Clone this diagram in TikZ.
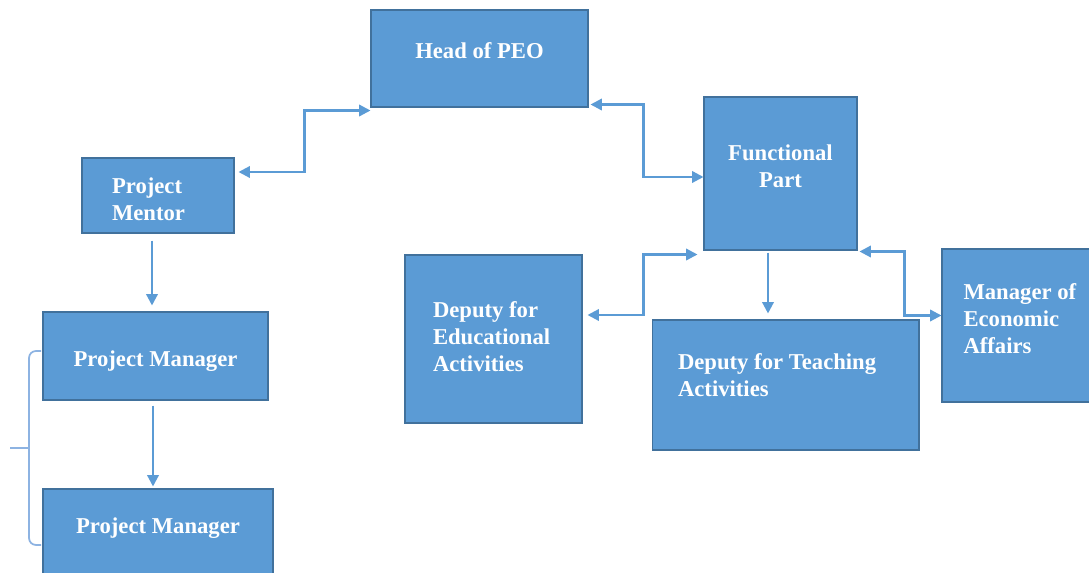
\documentclass[tikz,border=0pt]{standalone}
\usepackage{fontspec}
\setmainfont{Liberation Serif}
\definecolor{boxblue}{HTML}{5B9BD5}
\definecolor{boxedge}{HTML}{41719C}
\definecolor{linkblue}{HTML}{5B9BD5}
\definecolor{bracelight}{HTML}{8DB3E2}
\usetikzlibrary{arrows.meta,positioning,calc}

\begin{document}
\begin{tikzpicture}[
  x=0.02cm, y=-0.02cm,
  every node/.style={font=\fontsize{12.9}{15.3}\selectfont\bfseries},
  post/.style={draw=boxedge, fill=boxblue, text=white, line width=0.6pt,
               inner sep=0pt, align=flush left},
  link/.style={draw=linkblue, line width=1.3pt,
               {Triangle[length=6.5pt,width=6.5pt]}-{Triangle[length=6.5pt,width=6.5pt]}},
  down/.style={draw=linkblue, line width=1.3pt,
               -{Triangle[length=6.5pt,width=6.5pt]}},
  brace/.style={draw=bracelight, line width=1pt}
]
\useasboundingbox (0,0) rectangle (1089,573);

%% Boxes
\node[post, minimum width=4.34cm, minimum height=1.94cm, text depth=0.32cm]
  (head) at (479.5,58.5) {Head of PEO};
\node[post, minimum width=3.04cm, minimum height=1.5cm, text width=1.84cm, text depth=0.38cm]
  (mentor) at (158,195.5) {Project\\Mentor};
\node[post, minimum width=3.06cm, minimum height=3.06cm, align=center, text depth=0.28cm]
  (func) at (780.5,173.5) {Functional\\Part};
\node[post, minimum width=4.5cm, minimum height=1.76cm, text height=0.51cm]
  (pmA) at (155.5,356) {Project Manager};
\node[post, minimum width=4.6cm, minimum height=1.76cm, text depth=0.3cm]
  (pmB) at (158,533) {Project Manager};
\node[post, minimum width=3.54cm, minimum height=3.36cm, text width=2.42cm, text depth=1.18cm]
  (edu) at (493.5,339) {Deputy for\\Educational\\Activities};
\node[post, minimum width=5.34cm, minimum height=2.6cm, text width=4.3cm, text depth=0.92cm]
  (teach) at (785.5,385) {Deputy for Teaching\\Activities};
\node[post, minimum width=3.16cm, minimum height=3.06cm, text width=2.3cm, text depth=1.36cm]
  (econ) at (1021,325.5) {Manager of\\Economic\\Affairs};

%% Head of PEO links
\draw[link] ([xshift=0.08cm, yshift=0.47cm]mentor.east) -- ++(66,0)
  |- ([yshift=-0.06cm]head.south west);
\draw[link] ($(head.south east)+(2,-3)$) -- ++(53,0)
  |- ([yshift=-0.07cm]func.west);

%% Functional Part links
\draw[link] ([xshift=0.1cm, yshift=0.48cm]edu.east) -- ++(56,0)
  |- ($(func.south west)+(-6,4)$);
\draw[down] ([xshift=-0.25cm, yshift=-0.04cm]func.south)
  -- ([xshift=-0.25cm, yshift=0.12cm]func.south |- teach.north);
\draw[link] ($(func.south east)+(2,1)$) -- ++(45,0)
  |- ([yshift=0.2cm]econ.west);

%% Project line
\draw[down] ([xshift=-0.12cm, yshift=-0.14cm]mentor.south)
  -- ([xshift=-0.12cm, yshift=0.12cm]mentor.south |- pmA.north);
\draw[down] ([xshift=-0.05cm, yshift=-0.1cm]pmA.south)
  -- ([xshift=-0.05cm, yshift=0.04cm]pmA.south |- pmB.north);

%% Brace
\draw[brace, rounded corners=4pt] (41,351) -| (29,545) -- (41,545);
\draw[brace] (10,448) -- (29,448);

\end{tikzpicture}
\end{document}
